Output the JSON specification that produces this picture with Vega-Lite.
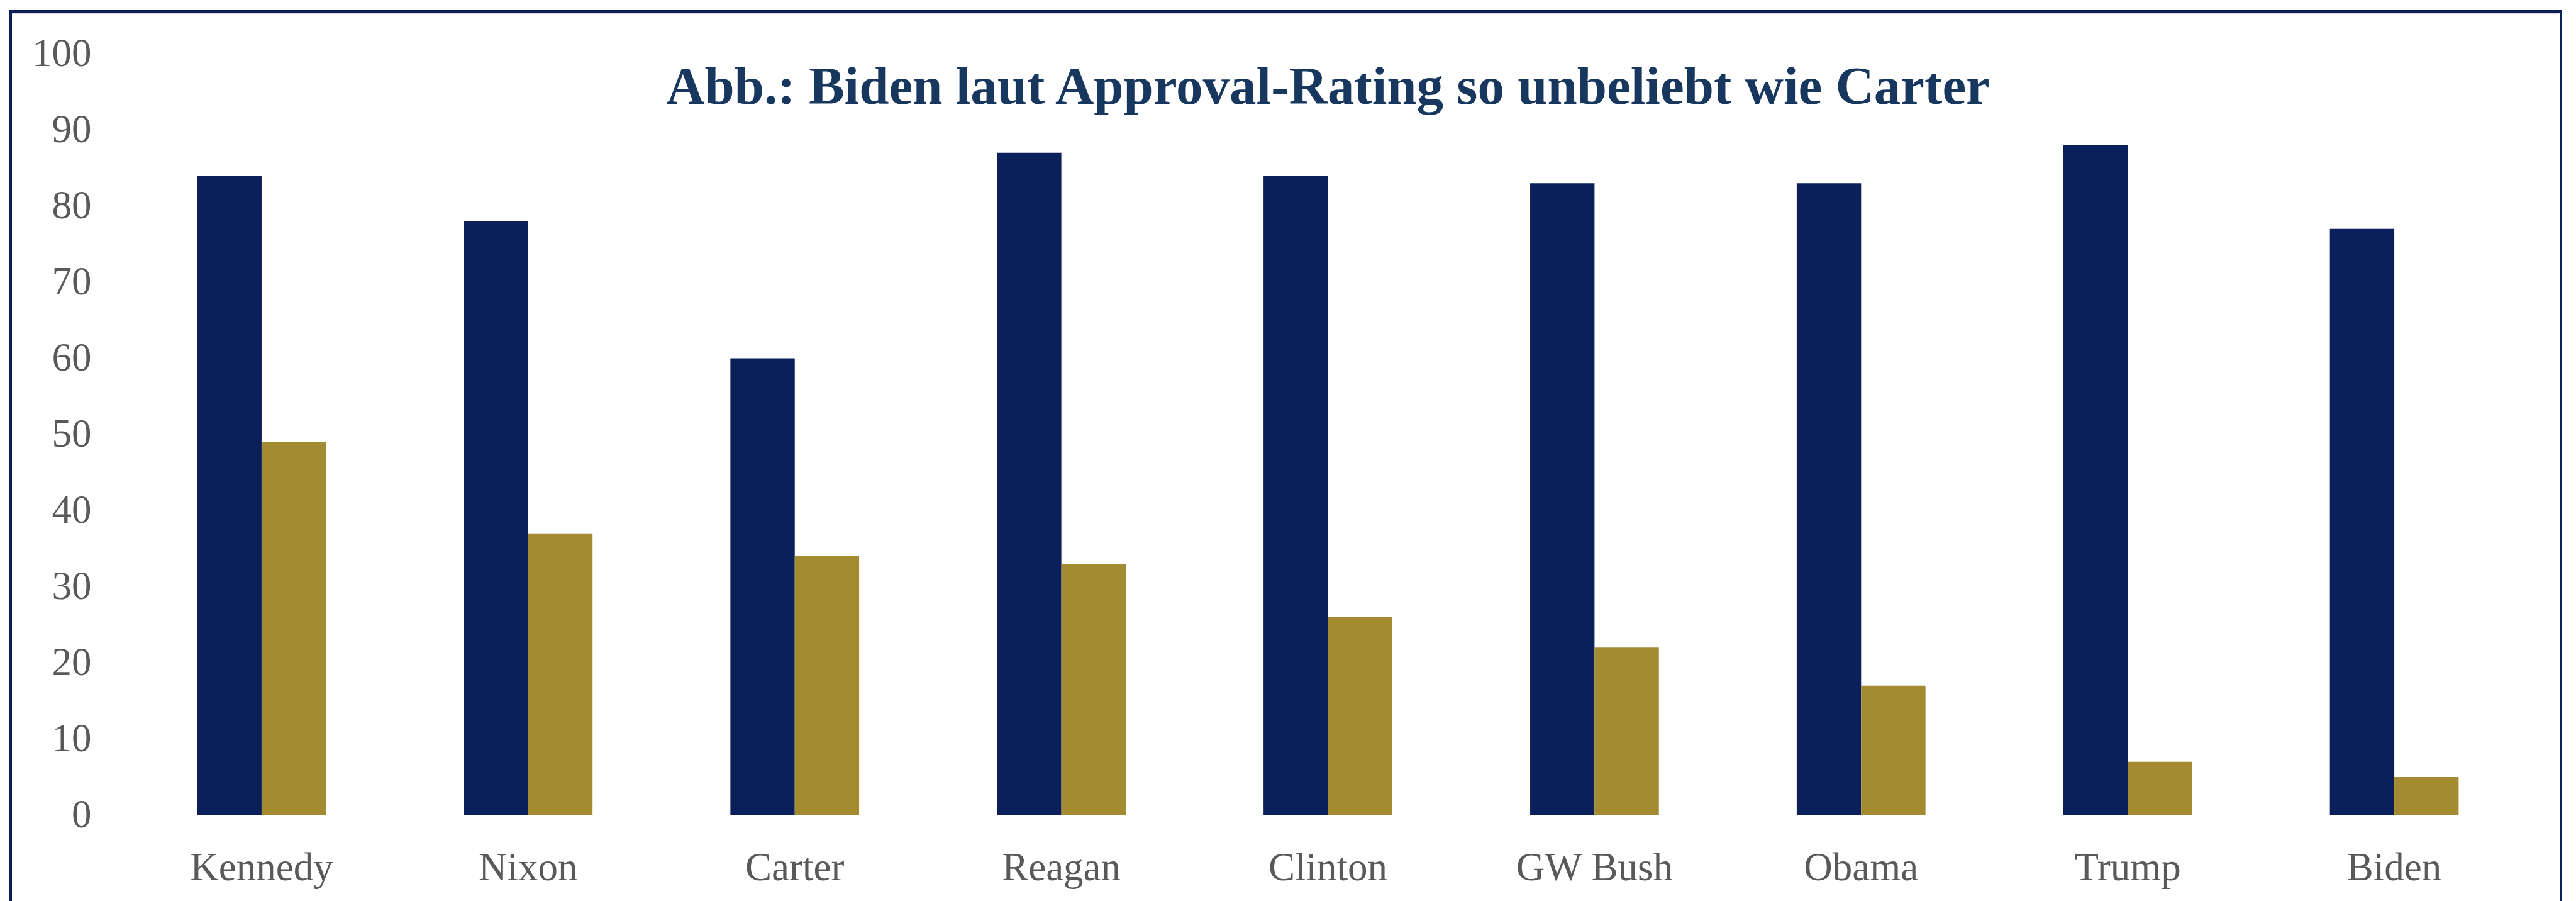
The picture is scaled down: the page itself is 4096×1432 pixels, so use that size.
{
  "$schema": "https://vega.github.io/schema/vega-lite/v6.json",
  "autosize": {"type": "none"},
  "width": 3815,
  "height": 1210,
  "padding": {"left": 204, "top": 85.5, "right": 77, "bottom": 136.5},
  "background": "#FFFFFF",
  "config": {
    "view": {"stroke": null},
    "axis": {"labelFont": "Liberation Serif", "labelColor": "#595959", "labelFontSize": 63, "labelLimit": 0}
  },
  "title": {
    "text": "Abb.: Biden laut Approval-Rating so unbeliebt wie Carter",
    "font": "Liberation Serif",
    "fontSize": 85,
    "fontWeight": "bold",
    "color": "#17375E",
    "anchor": "middle",
    "frame": "group",
    "baseline": "alphabetic",
    "offset": 0,
    "dy": 233
  },
  "data": {
    "values": [
      {"praesident": "Kennedy", "gruppe": "Eigene Partei", "wert": 84},
      {"praesident": "Kennedy", "gruppe": "Andere Partei", "wert": 49},
      {"praesident": "Nixon", "gruppe": "Eigene Partei", "wert": 78},
      {"praesident": "Nixon", "gruppe": "Andere Partei", "wert": 37},
      {"praesident": "Carter", "gruppe": "Eigene Partei", "wert": 60},
      {"praesident": "Carter", "gruppe": "Andere Partei", "wert": 34},
      {"praesident": "Reagan", "gruppe": "Eigene Partei", "wert": 87},
      {"praesident": "Reagan", "gruppe": "Andere Partei", "wert": 33},
      {"praesident": "Clinton", "gruppe": "Eigene Partei", "wert": 84},
      {"praesident": "Clinton", "gruppe": "Andere Partei", "wert": 26},
      {"praesident": "GW Bush", "gruppe": "Eigene Partei", "wert": 83},
      {"praesident": "GW Bush", "gruppe": "Andere Partei", "wert": 22},
      {"praesident": "Obama", "gruppe": "Eigene Partei", "wert": 83},
      {"praesident": "Obama", "gruppe": "Andere Partei", "wert": 17},
      {"praesident": "Trump", "gruppe": "Eigene Partei", "wert": 88},
      {"praesident": "Trump", "gruppe": "Andere Partei", "wert": 7},
      {"praesident": "Biden", "gruppe": "Eigene Partei", "wert": 77},
      {"praesident": "Biden", "gruppe": "Andere Partei", "wert": 5}
    ]
  },
  "layer": [
    {
      "mark": {"type": "rect", "fill": null, "stroke": "#0B1F5A", "strokeWidth": 3.5, "clip": false},
      "encoding": {
        "x": {"datum": -0.04915, "type": "quantitative", "scale": {"domain": [0, 1], "nice": false, "zero": false}, "axis": null},
        "x2": {"datum": 1.01389},
        "y": {"datum": 105.53, "type": "quantitative"},
        "y2": {"datum": -25}
      }
    },
    {
      "mark": {"type": "rule", "stroke": "#D9D9D9", "strokeWidth": 2.7, "clip": false},
      "encoding": {
        "x": {"datum": -0.0483, "type": "quantitative", "scale": {"domain": [0, 1], "nice": false, "zero": false}, "axis": null},
        "x2": {"datum": 1.0130},
        "y": {"datum": 105.27, "type": "quantitative"}
      }
    },
    {
      "mark": {"type": "bar"},
      "encoding": {
        "x": {
          "field": "praesident",
          "type": "nominal",
          "sort": ["Kennedy", "Nixon", "Carter", "Reagan", "Clinton", "GW Bush", "Obama", "Trump", "Biden"],
          "scale": {"paddingInner": 0.517, "paddingOuter": 0.2585},
          "axis": {
            "title": null,
            "labelAngle": 0,
            "ticks": false,
            "tickSize": 0,
            "domain": false,
            "labelPadding": 53,
            "labelBaseline": "top"
          }
        },
        "xOffset": {
          "field": "gruppe",
          "type": "nominal",
          "sort": ["Eigene Partei", "Andere Partei"],
          "scale": {"paddingInner": 0, "paddingOuter": 0}
        },
        "y": {
          "field": "wert",
          "type": "quantitative",
          "scale": {"domain": [0, 100], "nice": false, "zero": true},
          "axis": {
            "title": null,
            "values": [0, 10, 20, 30, 40, 50, 60, 70, 80, 90, 100],
            "ticks": false,
            "tickSize": 0,
            "domain": false,
            "labelPadding": 59,
            "gridColor": "#D9D9D9",
            "gridWidth": 4
          }
        },
        "color": {
          "field": "gruppe",
          "type": "nominal",
          "sort": ["Eigene Partei", "Andere Partei"],
          "scale": {"domain": ["Eigene Partei", "Andere Partei"], "range": ["#0B1F5A", "#A38B32"]},
          "legend": null
        }
      }
    }
  ],
  "resolve": {"scale": {"x": "independent"}, "axis": {"x": "independent"}}
}
